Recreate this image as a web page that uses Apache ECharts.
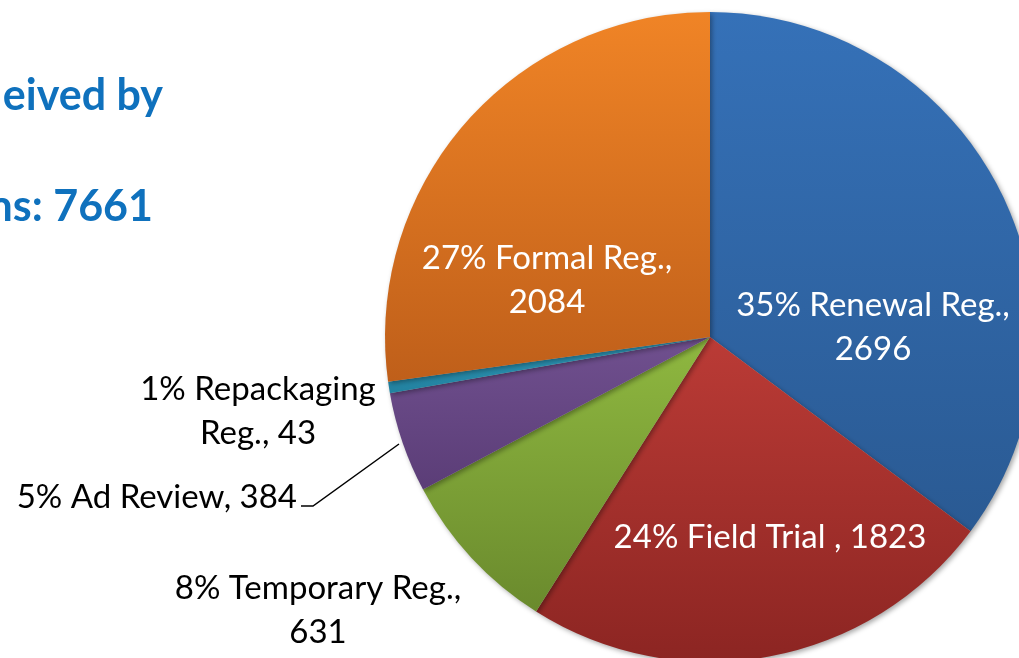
<!DOCTYPE html>
<html>
<head>
<meta charset="utf-8">
<script src="https://cdn.jsdelivr.net/npm/echarts@6/dist/echarts.min.js"></script>
<style>
  html, body { margin: 0; padding: 0; background: #fff; }
  #chart { width: 1019px; height: 658px; }
</style>
</head>
<body>
<div id="chart"></div>
<script>
  // applications by type, clockwise from 12 o'clock
  var names = ['Renewal Reg.', 'Field Trial ', 'Temporary Reg.', 'Ad Review', 'Repackaging\nReg.', 'Formal Reg.'];
  var values = [2696, 1823, 631, 384, 43, 2084];
  var breakAfterComma = [true, false, true, false, false, true];
  var titleLines = ['eived by', 'ns: 7661'];

  var colors = [
    ['#3571b8', '#2a5a93'],
    ['#bb3b36', '#8c2522'],
    ['#8fb840', '#6a8a2d'],
    ['#70508f', '#5b3d77'],
    ['#2f9abb', '#22819f'],
    ['#f08426', '#bf5f1a']
  ];

  // label placement (centre of text) and leader lines, by slice
  var labelPlace = [
    { x: 873, y: 327, align: 'center', color: '#fff' },
    { x: 770, y: 537, align: 'center', color: '#fff' },
    { x: 318, y: 610, align: 'center', color: '#000' },
    { x: 297, y: 497, align: 'right', color: '#000', line: [[301, 506], [313, 506], [399, 444]] },
    { x: 258, y: 411, align: 'center', color: '#000' },
    { x: 547, y: 280, align: 'center', color: '#fff' }
  ];

  var pieData = names.map(function (n, i) {
    return {
      name: n,
      value: values[i],
      itemStyle: {
        color: new echarts.graphic.LinearGradient(0, 0, 0, 1, [
          { offset: 0, color: colors[i][0] },
          { offset: 1, color: colors[i][1] }
        ])
      },
      label: { color: labelPlace[i].color, align: labelPlace[i].align },
      labelLine: { show: !!labelPlace[i].line }
    };
  });

  var chart = echarts.init(document.getElementById('chart'));
  chart.setOption({
    backgroundColor: '#fff',
    animation: false,
    graphic: [
      { type: 'text', x: 163, y: 96, style: { text: titleLines[0], font: 'bold 43px Lato', fill: '#0f71bd', textAlign: 'right', textVerticalAlign: 'middle' } },
      { type: 'text', x: 153, y: 207, style: { text: titleLines[1], font: 'bold 43px Lato', fill: '#0f71bd', textAlign: 'right', textVerticalAlign: 'middle' } }
    ],
    series: [{
      type: 'pie',
      center: [710, 337],
      radius: 325,
      startAngle: 90,
      clockwise: true,
      percentPrecision: 0,
      avoidLabelOverlap: false,
      itemStyle: {
        borderWidth: 0,
        shadowBlur: 5,
        shadowColor: 'rgba(0,0,0,0.35)',
        shadowOffsetX: 2,
        shadowOffsetY: 2
      },
      label: {
        show: true,
        position: 'outside',
        fontFamily: 'Lato',
        fontSize: 33,
        lineHeight: 44,
        formatter: function (p) {
          var i = p.dataIndex;
          return p.percent + '% ' + p.name + ',' + (breakAfterComma[i] ? '\n' : ' ') + p.value;
        }
      },
      labelLine: {
        show: true,
        lineStyle: { color: '#000', width: 1.5 }
      },
      labelLayout: function (params) {
        var lp = labelPlace[params.dataIndex];
        var out = { x: lp.x, y: lp.y, align: lp.align, verticalAlign: 'middle' };
        if (lp.line) out.labelLinePoints = lp.line;
        return out;
      },
      data: pieData
    }]
  });
</script>
</body>
</html>
